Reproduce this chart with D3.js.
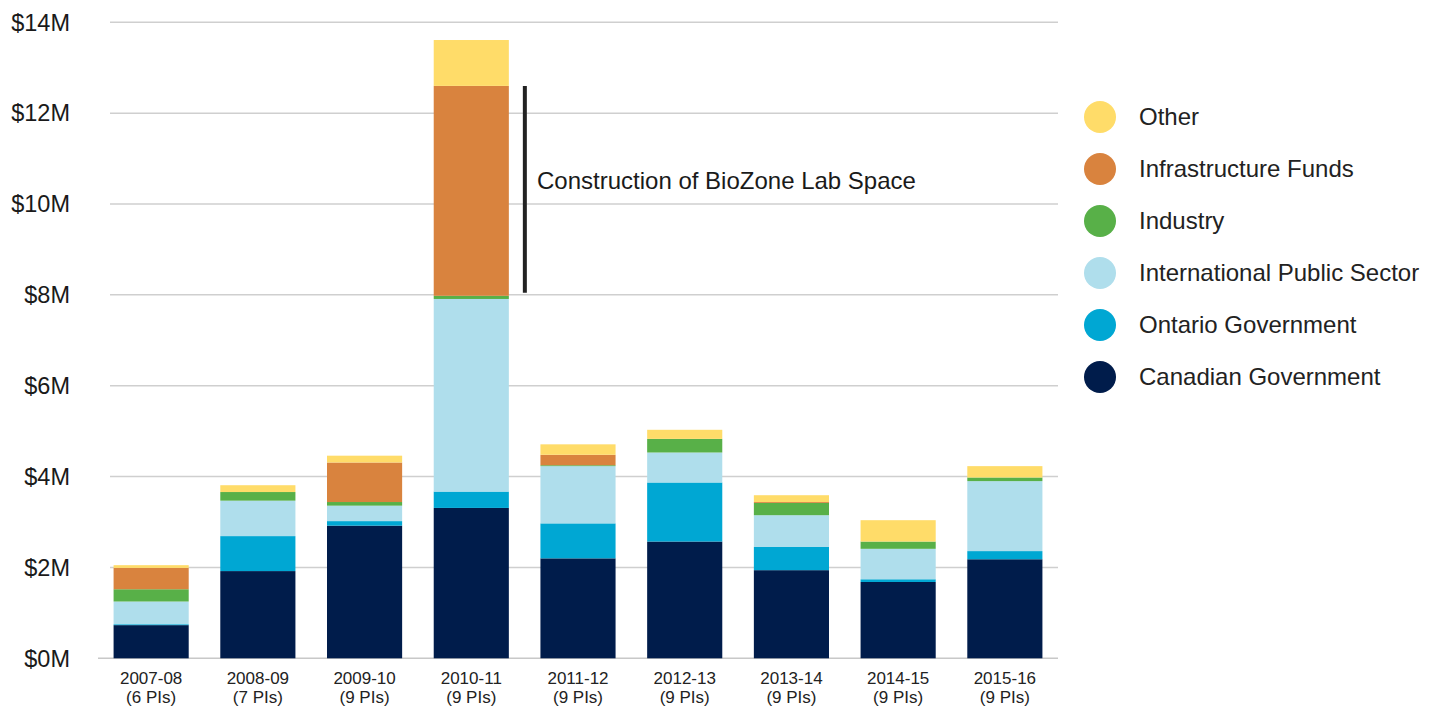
<!DOCTYPE html>
<html><head><meta charset="utf-8">
<script src="https://cdn.jsdelivr.net/npm/d3@7"></script>
<style>body{margin:0;background:#fff;} text{font-family:"Liberation Sans",Arial,sans-serif;}</style>
</head><body>
<svg id="c" width="1435" height="707"></svg>
<script>
const years = ["2007-08","2008-09","2009-10","2010-11","2011-12","2012-13","2013-14","2014-15","2015-16"];
const pis = ["(6 PIs)","(7 PIs)","(9 PIs)","(9 PIs)","(9 PIs)","(9 PIs)","(9 PIs)","(9 PIs)","(9 PIs)"];
const seriesNames = ["Canadian Government","Ontario Government","International Public Sector","Industry","Infrastructure Funds","Other"];
const canadian = [0.73,1.92,2.92,3.31,2.20,2.57,1.94,1.68,2.18];
const ontario  = [0.02,0.77,0.10,0.36,0.77,1.30,0.51,0.06,0.18];
const intlPublic=[0.50,0.78,0.34,4.24,1.26,0.66,0.70,0.67,1.54];
const industry = [0.27,0.19,0.08,0.07,0.02,0.30,0.27,0.16,0.08];
const infra    = [0.47,0.00,0.87,4.62,0.23,0.00,0.02,0.00,0.00];
const other    = [0.06,0.15,0.15,1.01,0.23,0.20,0.15,0.47,0.25];
const yTicks = [0,2,4,6,8,10,12,14];
const colors = ["#001c4b","#00a7d3","#afdeec","#58b048","#d9833e","#ffdc69"];
const annotation = "Construction of BioZone Lab Space";

const seriesVals = [canadian,ontario,intlPublic,industry,infra,other];
const rows = years.map((y,i)=>{const r={year:y};seriesNames.forEach((s,k)=>r[s]=seriesVals[k][i]);return r;});
const stack = d3.stack().keys(seriesNames)(rows);

const svg = d3.select("#c");
const x = d3.scaleBand().domain(years).range([98,1058]).paddingInner(0.296).paddingOuter(0.146);
const y = d3.scaleLinear().domain([0,14]).range([658.3,22.3]);

// gridlines
svg.append("g").selectAll("line").data(yTicks.filter(d=>d>0)).join("line")
  .attr("x1",110).attr("x2",1058).attr("y1",d=>y(d)).attr("y2",d=>y(d))
  .attr("stroke","#cfcfcf").attr("stroke-width",1.5);
svg.append("line").attr("x1",98).attr("x2",1058).attr("y1",y(0)).attr("y2",y(0))
  .attr("stroke","#c8c8c8").attr("stroke-width",1.5);

// y labels
svg.append("g").selectAll("text").data(yTicks).join("text")
  .attr("x",70).attr("y",d=>y(d)).attr("dy","0.35em").attr("text-anchor","end")
  .attr("font-size",23.5).attr("fill","#1a1a1a").text(d=>"$"+d+"M");

// bars
svg.append("g").selectAll("g").data(stack).join("g")
  .attr("fill",(d,i)=>colors[i])
  .selectAll("rect").data(d=>d).join("rect")
  .attr("x",d=>x(d.data.year)).attr("width",x.bandwidth())
  .attr("y",d=>y(d[1])).attr("height",d=>Math.max(0,y(d[0])-y(d[1])));

// x labels
const xl = svg.append("g").selectAll("text").data(years).join("text")
  .attr("x",d=>x(d)+x.bandwidth()/2).attr("text-anchor","middle")
  .attr("font-size",17).attr("fill","#222");
xl.append("tspan").attr("x",d=>x(d)+x.bandwidth()/2).attr("y",684).text(d=>d);
xl.append("tspan").attr("x",d=>x(d)+x.bandwidth()/2).attr("y",703).text((d,i)=>pis[i]);

// annotation
const ai = 3;
const infraTop = stack[4][ai][1], infraBot = stack[4][ai][0];
svg.append("line").attr("x1",x(years[ai])+x.bandwidth()+16).attr("x2",x(years[ai])+x.bandwidth()+16)
  .attr("y1",y(infraTop)).attr("y2",y(infraBot)-3).attr("stroke","#222").attr("stroke-width",4);
svg.append("text").attr("x",537).attr("y",189).attr("font-size",24).attr("fill","#1a1a1a").text(annotation);

// legend
const legendOrder = seriesNames.map((s,i)=>({s,c:colors[i]})).reverse();
const lg = svg.append("g").selectAll("g").data(legendOrder).join("g")
  .attr("transform",(d,i)=>`translate(1100,${117+i*52})`);
lg.append("circle").attr("r",16).attr("fill",d=>d.c);
lg.append("text").attr("x",39).attr("dy","0.35em").attr("font-size",24).attr("fill","#222").text(d=>d.s);
</script>
</body></html>
